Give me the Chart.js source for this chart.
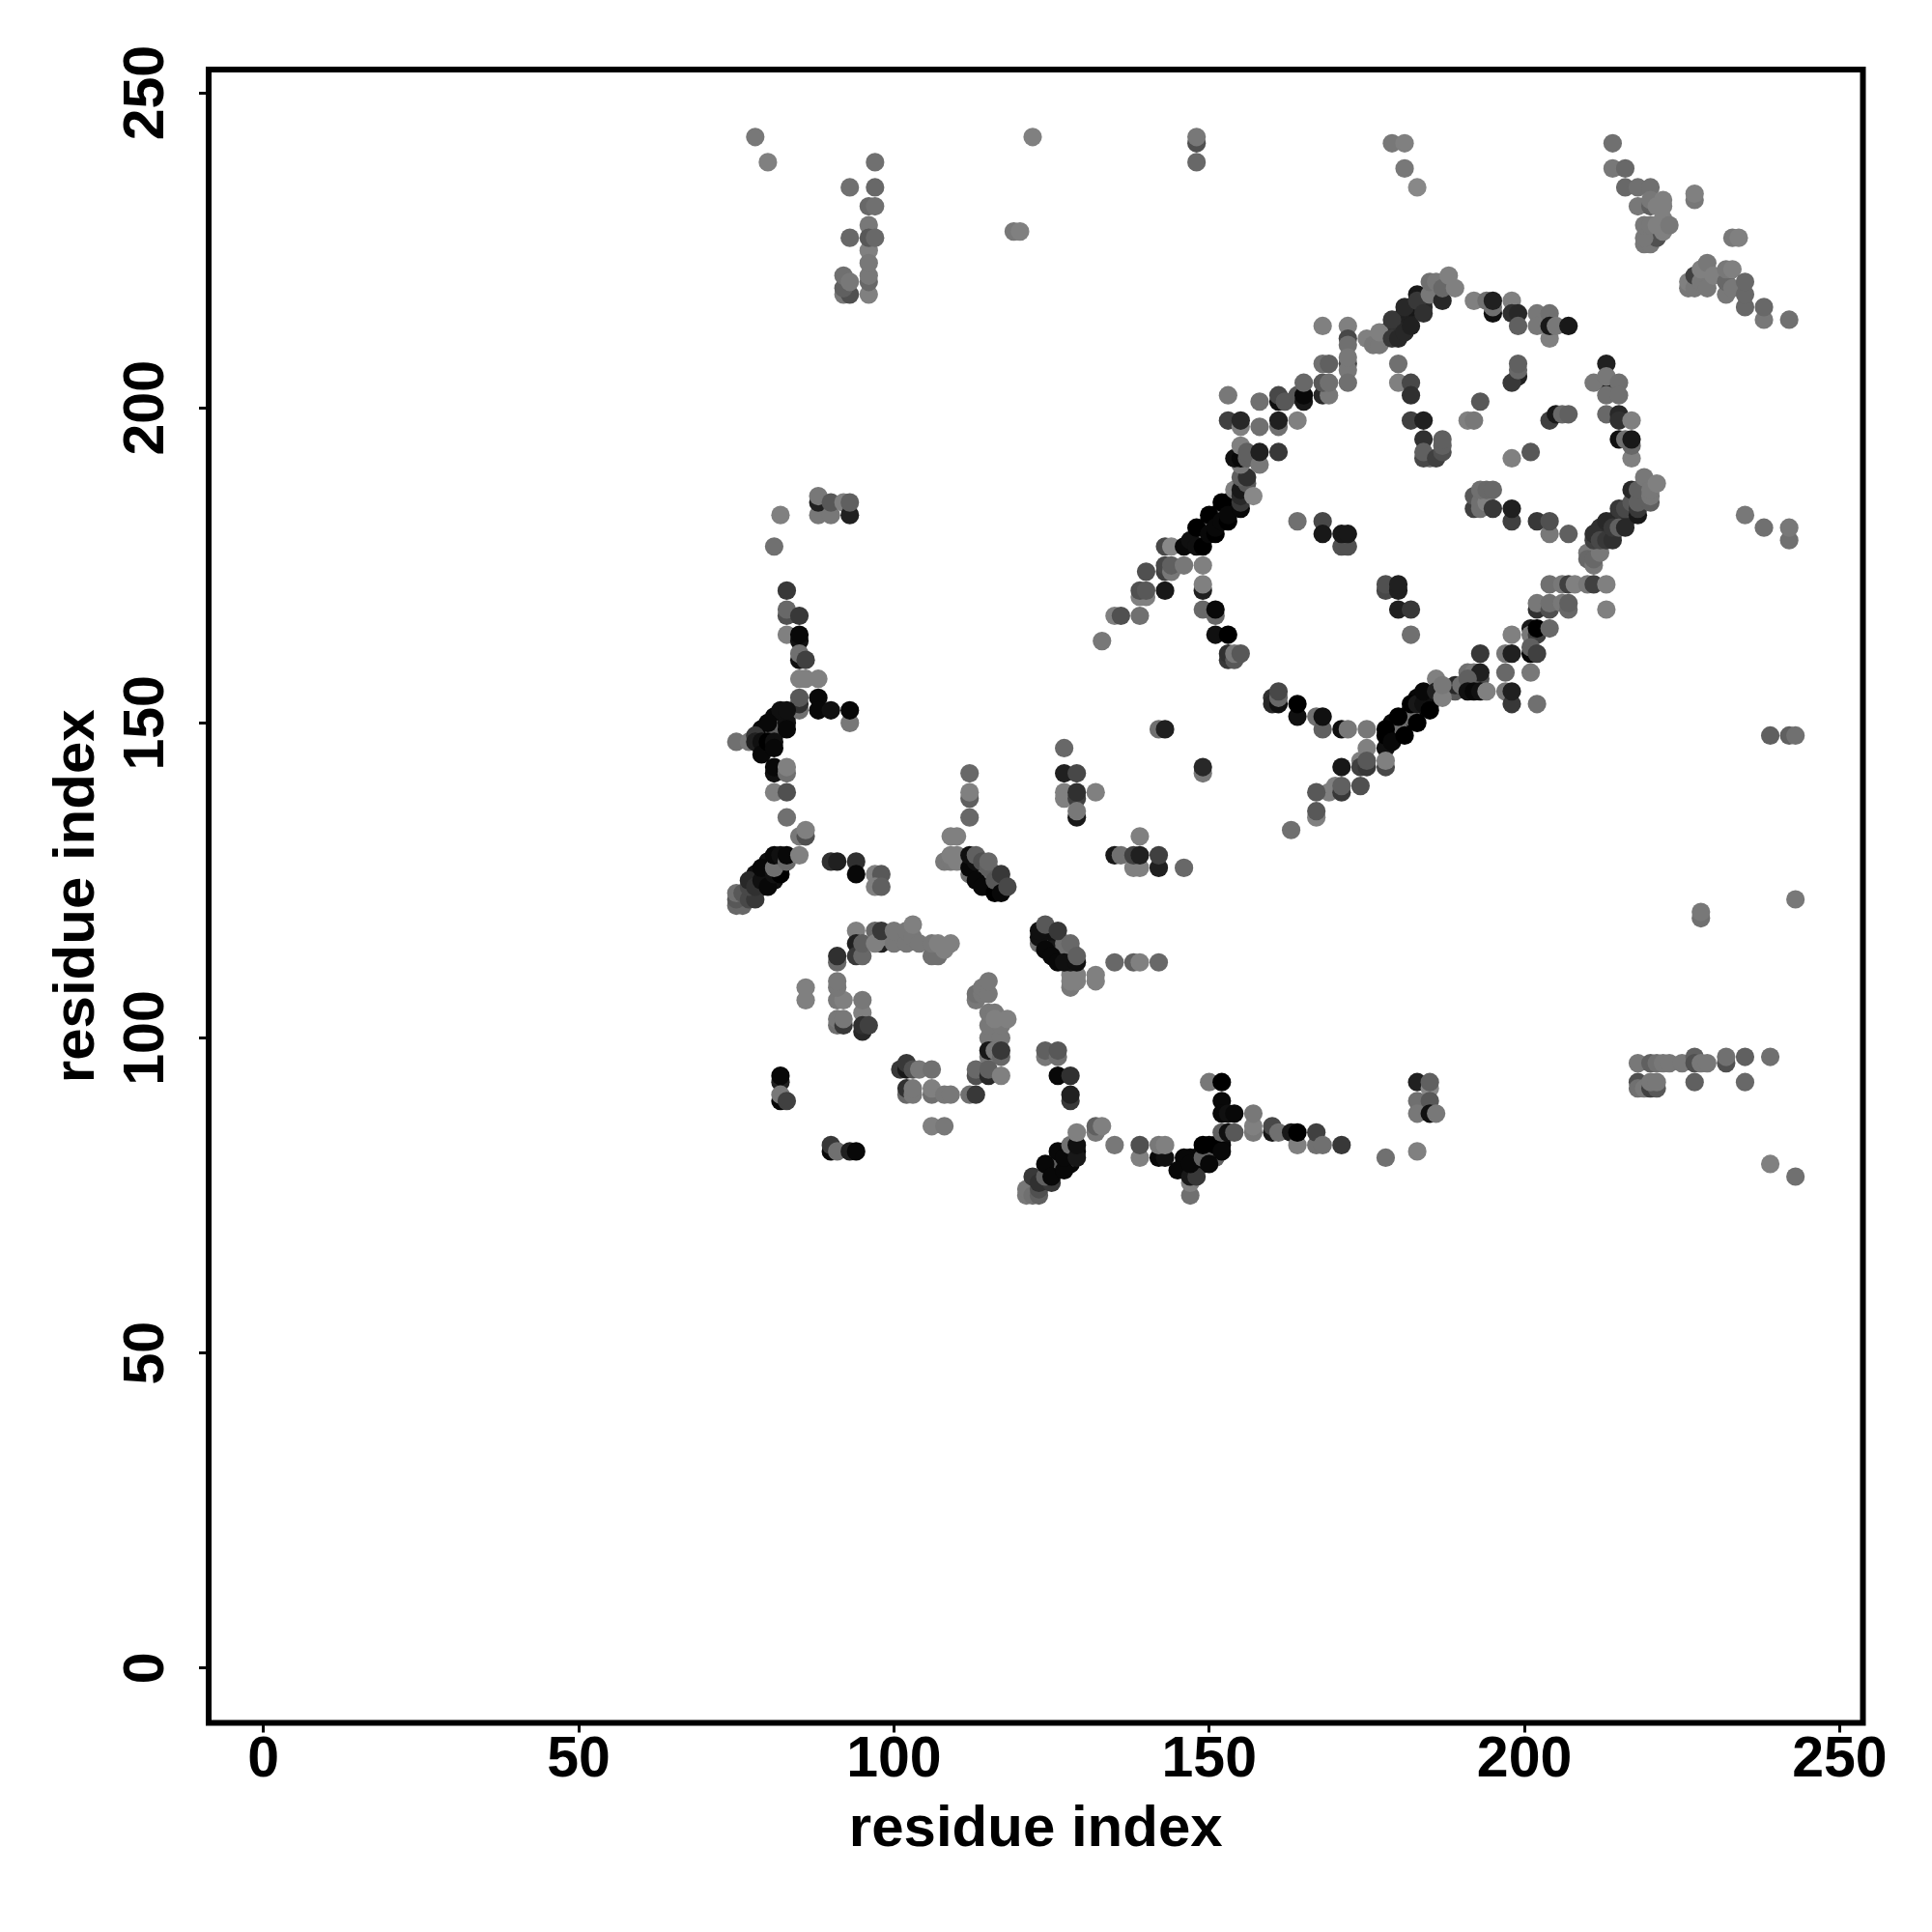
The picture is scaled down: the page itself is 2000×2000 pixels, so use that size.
<!DOCTYPE html>
<html>
<head>
<meta charset="utf-8">
<title>residue contacts</title>
<script src="https://cdn.jsdelivr.net/npm/chart.js@4"></script>
<style>
    html, body { margin: 0; padding: 0; background: #fff; }
    canvas { display: block; }
</style>
</head>
<body>
<canvas id="contactChart" width="2000" height="2000"></canvas>
<script>
// Tick positions and axis title
const tickValues = [0, 50, 100, 150, 200, 250];
const axisTitle = 'residue index';

// Contacts. The three arrays run in parallel, line by line, in drawing order
const residueX = [
    178,178,179,180,180,181,181,182,182,183,184,184,
    149,149,150,151,151,152,153,153,154,154,
    179,179,180,181,181,182,183,183,184,185,185,186,
    80,80,81,79,79,82,82,81,81,83,80,
    78,79,80,80,80,81,79,82,82,81,80,
    113,114,115,116,117,115,116,124,125,126,127,128,128,
    125,126,127,127,128,128,129,
    146,146,147,147,148,148,149,149,150,150,151,150,152,
    212,212,213,213,214,214,215,215,216,216,217,217,
    78,80,97,93,97,96,97,93,96,96,96,97,
    96,96,96,96,92,93,92,92,93,119,120,122,
    148,148,148,179,181,181,183,153,153,155,155,158,
    158,161,161,161,161,162,164,164,165,165,165,168,
    168,169,168,169,168,169,172,172,172,172,172,172,172,
    175,176,177,177,179,179,180,181,181,182,183,183,184,
    185,185,186,187,187,188,189,180,180,182,182,182,184,
    184,185,184,184,186,187,187,187,191,
    192,194,195,195,195,198,198,199,199,202,202,204,
    204,204,205,207,199,198,199,199,193,192,198,201,
    204,205,206,207,213,213,211,213,213,215,215,213,
    215,215,217,215,216,217,217,217,
    214,214,216,216,218,220,218,220,220,221,222,222,
    219,220,221,219,219,220,221,222,222,223,
    227,227,233,234,226,226,227,227,228,229,228,229,230,
    232,232,233,232,233,235,235,235,238,238,242,
    88,88,88,90,90,92,93,93,82,81,
    83,83,83,85,83,85,85,85,85,86,85,86,88,
    85,85,85,88,88,90,93,93,81,83,82,83,83,80,
    75,77,78,78,79,79,80,81,81,81,81,83,83,
    81,83,83,85,86,86,75,76,75,75,76,77,78,
    77,77,78,79,80,79,81,82,81,81,82,83,83,85,
    90,91,94,94,97,98,97,98,112,112,112,112,109,110,
    108,109,109,110,110,112,113,114,115,112,112,113,113,113,114,114,115,115,116,116,117,117,118,
    127,127,129,127,127,129,129,129,129,132,139,
    135,136,138,139,138,139,142,142,146,135,138,139,142,
    128,132,132,128,129,128,129,
    135,136,139,133,140,139,140,139,140,143,143,143,144,144,146,149,
    143,144,149,149,149,151,151,151,153,153,153,154,154,155,
    148,150,152,146,147,148,149,148,150,150,151,151,152,152,153,153,
    154,155,155,155,155,156,157,155,156,155,154,155,155,156,156,158,158,161,
    164,168,168,171,172,171,172,178,178,180,180,180,182,182,
    192,192,193,193,194,193,194,195,195,198,198,202,204,204,207,
    210,210,211,211,212,211,211,212,213,213,214,214,215,215,216,216,217,218,217,218,218,218,219,220,220,220,221,
    204,206,207,208,210,211,213,213,202,202,204,204,206,207,207,
    201,201,202,202,204,198,201,201,202,193,197,198,197,201,
    191,192,193,193,189,189,190,191,191,192,193,194,197,198,198,202,
    235,238,242,242,239,242,243,
    160,160,161,161,161,164,164,167,168,168,171,172,175,
    180,182,178,178,178,179,180,181,182,183,183,184,184,185,186,186,187,187,
    178,178,175,174,174,175,175,171,174,169,170,171,171,167,167,167,163,149,149,142,143,
    123,125,126,128,127,127,123,123,124,125,126,124,126,127,128,129,129,
    94,91,91,94,94,95,95,97,98,97,98,98,100,100,102,102,103,103,104,
    106,107,106,107,108,109,91,92,91,91,86,86,95,95,91,91,92,92,
    95,95,96,113,113,114,114,115,115,115,117,115,117,115,116,116,118,
    115,115,116,117,117,113,113,115,115,117,
    101,102,102,103,104,106,102,102,103,103,106,106,108,109,112,113,106,108,
    82,82,82,82,83,90,90,91,93,94,
    124,124,126,126,126,128,128,128,
    121,121,122,123,123,122,123,125,124,126,126,128,124,125,126,127,127,128,129,129,129,
    132,132,133,135,139,139,142,143,142,143,
    147,147,146,145,147,148,147,149,151,149,150,151,152,
    150,152,152,152,153,154,152,153,154,157,157,157,
    160,160,161,163,164,164,167,167,168,171,178,183,
    183,185,185,183,185,183,185,186,
    243,228,228,218,220,221,222,223,225,227,227,228,229,232,232,235,239,
    218,218,219,220,221,220,221,227,235,239,243
];
const residueY = [
    211,212,213,213,214,214,215,215,216,216,216,217,
    179,180,182,182,183,184,184,185,185,186,
    149,150,150,150,151,152,152,154,154,154,153,154,
    148,149,148,146,149,150,151,150,151,151,146,
    126,126,126,127,125,125,124,127,128,128,128,
    127,126,125,124,124,126,126,116,115,114,113,113,114,
    79,80,80,82,82,80,82,
    79,80,79,81,80,81,80,82,81,82,82,83,83,
    180,181,180,181,180,182,182,183,182,183,183,184,
    243,239,239,235,235,232,232,227,229,225,227,227,
    218,220,221,223,218,218,219,221,220,228,228,243,
    242,243,239,242,242,238,235,202,198,197,198,201,
    197,197,198,201,202,201,198,202,201,202,204,213,
    207,207,202,202,204,204,213,211,210,207,206,208,204,
    211,210,210,212,214,211,211,216,212,213,218,217,215,
    218,220,220,217,219,221,219,207,204,204,202,198,198,
    195,192,192,193,192,193,194,195,198,
    217,217,215,216,217,217,215,215,213,215,213,215,
    211,213,213,213,205,204,206,207,201,198,192,193,
    198,199,199,199,207,204,204,205,202,204,202,199,
    199,198,198,195,195,192,194,195,
    242,238,238,235,235,235,232,232,233,232,232,233,
    226,226,227,227,229,229,229,228,230,229,
    233,234,227,227,219,220,219,221,220,219,222,223,221,
    218,220,219,222,222,216,218,220,214,216,214,
    183,185,186,183,185,185,183,185,183,178,
    171,167,168,167,164,163,164,160,161,160,157,157,157,
    152,153,154,154,152,152,150,152,149,150,152,152,149,150,
    147,147,148,147,147,145,147,147,146,142,143,142,143,
    139,139,135,132,132,133,121,121,122,123,123,122,122,
    124,125,124,125,124,127,126,126,127,129,129,128,129,129,
    128,128,128,126,126,126,124,124,142,138,139,135,132,132,
    128,128,129,128,129,126,126,125,124,127,129,128,129,125,124,128,127,128,123,125,123,126,124,
    146,142,142,138,139,138,139,135,136,139,132,
    129,129,127,127,129,129,127,129,127,112,112,112,112,
    108,109,110,109,109,110,110,
    167,167,167,163,174,170,170,171,171,171,174,175,174,175,175,175,
    178,178,171,172,168,167,168,164,164,160,161,160,161,161,
    179,181,183,178,179,178,178,181,180,183,180,181,182,185,182,183,
    187,184,185,186,187,188,186,189,189,191,192,192,194,192,193,191,193,193,
    182,182,180,178,178,180,180,171,172,171,172,168,168,164,
    184,186,184,185,185,187,187,187,184,182,184,182,180,182,180,
    177,176,175,176,177,179,180,179,179,182,179,181,181,184,181,184,185,183,187,184,185,187,189,185,186,187,188,
    172,172,172,172,172,172,172,168,168,169,168,169,169,168,169,
    165,164,164,165,165,164,161,162,161,161,161,161,158,158,
    158,158,157,158,155,156,156,157,155,155,155,155,155,153,155,153,
    183,181,179,181,148,148,148,
    154,153,153,154,155,151,153,151,149,151,149,149,149,
    149,151,146,148,149,147,151,148,153,150,153,153,155,152,157,155,154,156,
    143,144,146,144,143,143,144,143,140,139,140,139,140,139,135,136,133,142,143,149,149,
    115,114,113,112,114,115,116,117,114,113,112,118,117,112,115,112,113,
    117,112,113,115,113,113,115,117,115,115,116,117,115,117,115,117,116,118,115,
    113,113,115,115,114,115,106,106,108,109,106,108,104,106,102,103,102,103,
    101,102,102,106,107,107,108,107,109,100,100,102,102,104,104,103,103,
    97,98,98,97,98,94,95,94,95,94,
    95,95,96,95,95,95,91,92,91,92,91,92,91,91,91,91,86,86,
    93,94,90,91,90,82,83,82,82,82,
    97,98,97,98,94,94,90,91,
    75,76,75,75,76,78,77,77,78,79,81,81,80,78,82,79,81,83,81,83,85,
    85,86,86,83,81,83,81,81,83,83,
    75,77,81,79,78,78,80,81,81,83,80,83,82,
    93,93,90,88,88,88,85,85,85,85,86,88,
    85,86,85,85,83,85,83,85,83,83,81,82,
    93,92,93,90,90,88,88,88,
    122,119,120,96,96,96,96,96,96,97,96,96,96,96,97,97,97,
    93,92,92,92,92,93,93,93,93,80,78
];
const greyValues = [
    0x48,0x48,0x30,0x30,0x28,0x28,0x20,0x20,0x18,0x18,0x30,0x28,
    0x08,0x08,0x08,0x08,0x08,0x08,0x08,0x08,0x08,0x08,
    0x08,0x08,0x08,0x08,0x08,0x08,0x08,0x08,0x08,0x08,0x08,0x08,
    0x08,0x08,0x08,0x08,0x08,0x08,0x08,0x08,0x08,0x08,0x08,
    0x10,0x10,0x10,0x10,0x10,0x10,0x10,0x10,0x10,0x10,0x10,
    0x10,0x10,0x10,0x10,0x10,0x50,0x50,0x10,0x10,0x10,0x10,0x10,0x10,
    0x08,0x08,0x08,0x08,0x08,0x08,0x08,
    0x08,0x08,0x08,0x08,0x08,0x08,0x08,0x08,0x08,0x08,0x08,0x08,0x08,
    0x30,0x30,0x30,0x30,0x30,0x30,0x30,0x30,0x30,0x30,0x30,0x30,
    0x78,0x80,0x70,0x70,0x68,0x68,0x70,0x68,0x78,0x80,0x58,0x68,
    0x80,0x68,0x78,0x78,0x78,0x50,0x60,0x70,0x78,0x78,0x80,0x80,
    0x50,0x78,0x68,0x78,0x80,0x78,0x88,0x78,0x40,0x80,0x28,0x70,
    0x70,0x70,0x20,0x10,0x48,0x58,0x80,0x58,0x18,0x08,0x68,0x80,
    0x70,0x60,0x28,0x78,0x58,0x70,0x80,0x48,0x70,0x48,0x78,0x78,0x70,
    0x80,0x78,0x78,0x80,0x38,0x38,0x28,0x28,0x28,0x20,0x18,0x38,0x30,
    0x78,0x70,0x78,0x28,0x68,0x80,0x80,0x70,0x80,0x48,0x30,0x40,0x20,
    0x30,0x70,0x48,0x60,0x40,0x50,0x60,0x60,0x80,
    0x80,0x70,0x10,0x70,0x20,0x80,0x30,0x28,0x60,0x78,0x78,0x70,
    0x80,0x18,0x78,0x18,0x20,0x38,0x68,0x60,0x58,0x78,0x80,0x58,
    0x40,0x18,0x68,0x60,0x20,0x20,0x78,0x78,0x70,0x70,0x70,0x68,
    0x28,0x30,0x80,0x10,0x70,0x80,0x68,0x18,
    0x70,0x78,0x68,0x68,0x70,0x70,0x78,0x60,0x78,0x80,0x80,0x80,
    0x78,0x78,0x50,0x78,0x78,0x78,0x80,0x80,0x80,0x78,
    0x78,0x80,0x78,0x80,0x78,0x80,0x78,0x40,0x78,0x78,0x80,0x78,0x80,
    0x78,0x68,0x78,0x78,0x80,0x68,0x68,0x68,0x78,0x68,0x70,
    0x78,0x20,0x78,0x78,0x58,0x80,0x20,0x60,0x80,0x70,
    0x38,0x50,0x68,0x38,0x80,0x10,0x08,0x10,0x70,0x40,0x80,0x80,0x80,
    0x70,0x30,0x58,0x08,0x08,0x10,0x78,0x08,0x60,0x10,0x10,0x10,0x08,0x08,
    0x70,0x78,0x38,0x20,0x10,0x08,0x00,0x10,0x08,0x10,0x08,0x70,0x80,
    0x80,0x50,0x70,0x78,0x50,0x80,0x68,0x68,0x58,0x70,0x58,0x48,0x38,
    0x48,0x28,0x30,0x10,0x08,0x08,0x10,0x00,0x70,0x08,0x10,0x68,0x08,0x80,
    0x30,0x20,0x30,0x08,0x80,0x58,0x80,0x60,0x68,0x60,0x80,0x68,0x80,0x80,
    0x78,0x78,0x80,0x80,0x80,0x70,0x70,0x70,0x70,0x08,0x10,0x10,0x60,0x08,0x08,0x50,0x60,0x68,0x00,0x58,0x08,0x38,0x48,
    0x68,0x20,0x48,0x80,0x80,0x40,0x30,0x18,0x78,0x80,0x80,
    0x18,0x70,0x80,0x80,0x40,0x20,0x20,0x40,0x68,0x68,0x60,0x80,0x68,
    0x78,0x80,0x80,0x80,0x80,0x80,0x80,
    0x80,0x50,0x70,0x78,0x50,0x80,0x80,0x50,0x58,0x18,0x40,0x48,0x78,0x60,0x78,0x80,
    0x48,0x88,0x20,0x80,0x68,0x68,0x08,0x10,0x00,0x38,0x30,0x58,0x78,0x58,
    0x70,0x70,0x70,0x08,0x10,0x10,0x00,0x00,0x08,0x00,0x00,0x08,0x08,0x00,0x00,0x08,
    0x80,0x08,0x38,0x28,0x18,0x58,0x88,0x60,0x30,0x78,0x10,0x08,0x80,0x60,0x60,0x78,0x20,0x38,
    0x70,0x48,0x18,0x50,0x50,0x18,0x18,0x48,0x50,0x20,0x20,0x20,0x38,0x70,
    0x40,0x58,0x70,0x70,0x80,0x70,0x68,0x68,0x38,0x40,0x20,0x38,0x78,0x50,0x60,
    0x78,0x68,0x78,0x68,0x78,0x40,0x30,0x48,0x38,0x28,0x30,0x38,0x60,0x38,0x28,0x48,0x58,0x18,0x28,0x38,0x60,0x60,0x78,0x60,0x78,0x78,0x80,
    0x70,0x78,0x40,0x80,0x78,0x40,0x80,0x80,0x30,0x78,0x50,0x70,0x78,0x68,0x60,
    0x18,0x78,0x40,0x00,0x68,0x80,0x08,0x60,0x40,0x38,0x78,0x20,0x68,0x78,
    0x70,0x78,0x50,0x20,0x58,0x28,0x70,0x60,0x10,0x08,0x10,0x80,0x78,0x38,0x20,0x70,
    0x78,0x70,0x70,0x78,0x60,0x60,0x70,
    0x30,0x28,0x10,0x68,0x48,0x10,0x00,0x70,0x60,0x10,0x10,0x78,0x78,
    0x70,0x70,0x10,0x00,0x00,0x08,0x00,0x00,0x00,0x00,0x18,0x10,0x08,0x00,0x80,0x20,0x80,0x78,
    0x48,0x80,0x80,0x80,0x40,0x38,0x58,0x18,0x50,0x80,0x80,0x38,0x60,0x58,0x80,0x58,0x70,0x78,0x28,0x70,0x20,
    0x70,0x18,0x18,0x18,0x70,0x70,0x10,0x10,0x08,0x08,0x08,0x58,0x38,0x10,0x68,0x10,0x60,
    0x80,0x68,0x30,0x20,0x38,0x68,0x60,0x68,0x20,0x80,0x80,0x38,0x78,0x78,0x78,0x78,0x78,0x80,0x78,
    0x70,0x70,0x78,0x80,0x80,0x80,0x78,0x80,0x78,0x78,0x80,0x80,0x80,0x78,0x70,0x78,0x38,0x78,
    0x28,0x30,0x40,0x78,0x70,0x78,0x78,0x78,0x78,0x78,0x78,0x78,0x78,0x78,0x78,0x80,0x80,
    0x78,0x18,0x78,0x68,0x38,0x50,0x68,0x28,0x60,0x80,
    0x38,0x18,0x38,0x50,0x78,0x70,0x68,0x30,0x78,0x78,0x70,0x80,0x78,0x78,0x70,0x38,0x80,0x78,
    0x20,0x08,0x08,0x78,0x40,0x08,0x38,0x70,0x20,0x08,
    0x78,0x60,0x70,0x58,0x08,0x30,0x38,0x20,
    0x78,0x78,0x70,0x60,0x50,0x38,0x30,0x38,0x60,0x60,0x60,0x60,0x08,0x08,0x08,0x08,0x08,0x70,0x18,0x10,0x80,
    0x78,0x60,0x80,0x78,0x80,0x50,0x08,0x10,0x78,0x80,
    0x70,0x80,0x08,0x08,0x18,0x38,0x08,0x60,0x60,0x00,0x08,0x00,0x08,
    0x78,0x00,0x08,0x08,0x10,0x08,0x60,0x10,0x58,0x78,0x80,0x78,
    0x18,0x48,0x70,0x18,0x80,0x00,0x70,0x40,0x70,0x38,0x70,0x80,
    0x20,0x88,0x60,0x70,0x58,0x78,0x10,0x78,
    0x78,0x70,0x78,0x78,0x60,0x70,0x78,0x78,0x78,0x60,0x50,0x78,0x78,0x50,0x70,0x60,0x70,
    0x50,0x70,0x78,0x40,0x58,0x78,0x78,0x60,0x68,0x80,0x70
];

// Black box round the plot area
const plotFrame = {
    id: 'plotFrame',
    afterDraw(chart) {
        const { ctx, chartArea } = chart;
        ctx.save();
        ctx.strokeStyle = '#000';
        ctx.lineWidth = 6;
        ctx.lineJoin = 'miter';
        ctx.strokeRect(chartArea.left, chartArea.top, chartArea.right - chartArea.left, chartArea.bottom - chartArea.top);
        ctx.restore();
    }
};

const tickFont = { family: '"Liberation Sans"', size: 59, weight: 'bold', lineHeight: 1 };
const titleFont = { family: '"Liberation Sans"', size: 60, weight: 'bold', lineHeight: 1 };

function setTicks(scale) {
    scale.ticks = tickValues.map(v => ({ value: v }));
}

new Chart(document.getElementById('contactChart'), {
    type: 'scatter',
    data: {
        datasets: [{
            data: residueX.map((x, i) => ({ x: x, y: residueY[i] })),
            pointBackgroundColor: greyValues.map(g => `rgb(${g},${g},${g})`),
            pointBorderWidth: 0,
            pointRadius: 9.6,
            showLine: false
        }]
    },
    options: {
        responsive: false,
        animation: false,
        layout: { padding: { top: 72, right: 71.5, left: 0, bottom: 0 } },
        plugins: { legend: { display: false }, tooltip: { enabled: false } },
        scales: {
            x: {
                min: -8.7,
                max: 253.7,
                afterBuildTicks: setTicks,
                afterFit(scale) { scale.height = 216.5; },
                border: { display: false },
                grid: { drawOnChartArea: false, tickLength: 10, tickWidth: 3, tickColor: '#000' },
                ticks: { color: '#000', font: tickFont, padding: 0, autoSkip: false, maxRotation: 0 },
                title: { display: true, text: axisTitle, color: '#000', font: titleFont, padding: { top: 0, bottom: 76 } }
            },
            y: {
                min: -8.7,
                max: 253.7,
                afterBuildTicks: setTicks,
                afterFit(scale) { scale.width = 216; },
                border: { display: false },
                grid: { drawOnChartArea: false, tickLength: 10, tickWidth: 3, tickColor: '#000' },
                ticks: { color: '#000', font: tickFont, padding: 4, autoSkip: false, minRotation: 90, maxRotation: 90, crossAlign: 'center' },
                title: { display: true, text: axisTitle, color: '#000', font: titleFont, padding: { top: 50, bottom: 0 } }
            }
        }
    },
    plugins: [plotFrame]
});
</script>
</body>
</html>
